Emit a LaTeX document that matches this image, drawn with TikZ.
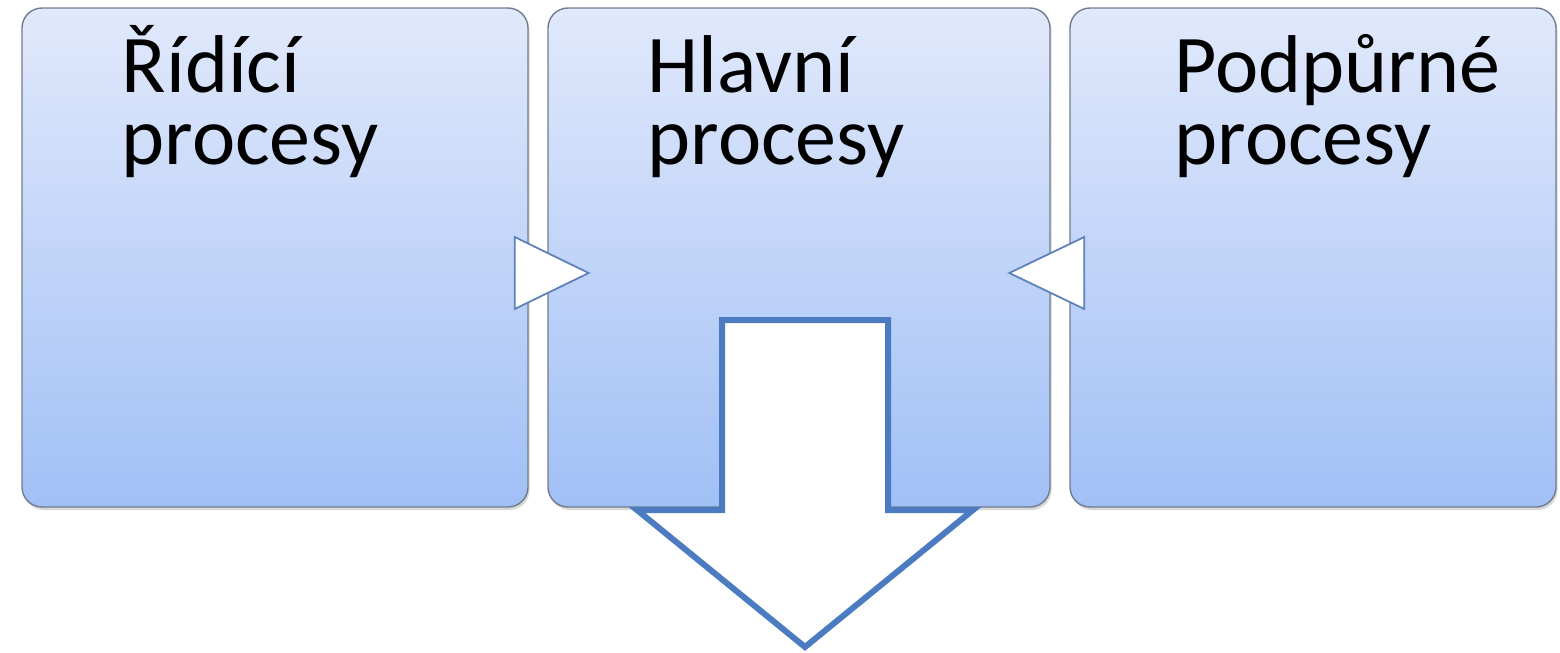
\documentclass[tikz,border=0pt]{standalone}
\usepackage{fontspec}
\setmainfont{Carlito}
\usetikzlibrary{calc,shadows}
\definecolor{boxtop}{HTML}{E1E9FB}
\definecolor{boxbot}{HTML}{A1C0F6}
\definecolor{boxline}{HTML}{717C8E}
\definecolor{arrowline}{HTML}{4B7BC0}
\definecolor{triline}{HTML}{5F82B9}
\tikzset{
  procbox/.style={rectangle, rounded corners=10pt, inner sep=0pt,
    draw=boxline, line width=0.7pt, top color=boxtop, bottom color=boxbot,
    minimum height=249.5pt,
    drop shadow={shadow xshift=0.8pt, shadow yshift=-1.5pt, opacity=0.25, fill=black!60}},
  proclabel/.style={anchor=base west, inner sep=0pt, text=black,
    font=\fontsize{41}{36}\selectfont},
  joint/.style={draw=triline, line width=0.9pt, fill=white, line join=miter},
  bigarrow/.style={draw=arrowline, line width=3pt, fill=white, line join=miter}
}
\newcommand{\twolines}[2]{\parbox[t]{200pt}{#1\\#2}}
\begin{document}
\begin{tikzpicture}[x=0.5pt,y=-0.5pt]
  \useasboundingbox (0,0) rectangle (1560,653);

  % three process boxes
  \node[procbox, minimum width=253pt] (b1) at (275,257.5) {};
  \node[procbox, minimum width=251pt] (b2) at (799,257.5) {};
  \node[procbox, minimum width=243pt] (b3) at (1313,257.5) {};

  % box titles
  \node[proclabel] (t1) at ($(b1.north west)+(100,85)$) {\twolines{Řídící}{procesy}};
  \node[proclabel] (t2) at ($(b2.north west)+(100,85)$) {\twolines{Hlavní}{procesy}};
  \node[proclabel] (t3) at ($(b3.north west)+(105,85)$) {\twolines{Podpůrné}{procesy}};

  % small pointers from the side boxes into the main box
  \draw[joint] ($(b1.east)+(-14,-20.5)$) -- ($(b1.east)+(60,15.5)$)
               -- ($(b1.east)+(-14,51.5)$) -- cycle;
  \draw[joint] ($(b3.west)+(15,-20.5)$) -- ($(b3.west)+(-60,15.5)$)
               -- ($(b3.west)+(15,51.5)$) -- cycle;

  % large output arrow leaving the main box
  \coordinate (tip) at (805,647);
  \draw[bigarrow] (722,320) -- (888,320) -- (888,510) -- (973,510)
     -- (tip) -- (637,510) -- (722,510) -- cycle;
\end{tikzpicture}
\end{document}
